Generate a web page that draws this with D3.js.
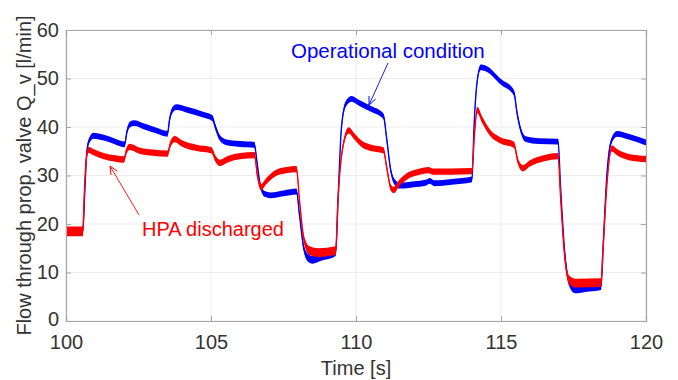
<!DOCTYPE html>
<html><head><meta charset="utf-8">
<script src="https://cdn.jsdelivr.net/npm/d3@7"></script>
<style>
html,body{margin:0;padding:0;background:#fff;}
text{font-family:"Liberation Sans",Arial,Helvetica,sans-serif;}
</style></head>
<body>
<svg id="chart" width="678" height="380"></svg>
<script>
// ---- data ----
const xTicks = [100, 105, 110, 115, 120];
const yTicks = [0, 10, 20, 30, 40, 50, 60];

const blueTime = [100,100.58,100.65,100.72,100.8,100.95,101.3,101.7,102.02,102.1,102.2,102.35,102.7,103.1,103.5,103.57,103.67,103.8,104.2,104.7,105.05,105.15,105.3,105.5,106.0,106.5,106.58,106.7,106.85,107.05,107.5,107.95,108.05,108.2,108.35,108.5,108.8,109.3,109.38,109.5,109.65,109.85,110.1,110.5,110.95,111.05,111.2,111.35,111.5,112.0,112.4,112.55,112.7,113.3,114.0,114.07,114.17,114.3,114.5,115.0,115.45,115.55,115.7,115.85,116.3,116.97,117.05,117.2,117.35,117.55,117.9,118.45,118.52,118.65,118.8,119.0,119.4,120];
const blueFlow = [18.5,18.5,27,35,37.2,38.2,37.8,37.0,36.4,39,40.5,40.8,40.1,39.3,38.6,41.5,43.5,44.1,43.5,42.6,41.8,40,37.8,36.9,36.5,36.3,33,28,26.2,25.9,26.3,26.7,22,15,13,12.6,13.2,14.2,25,40,44.8,45.8,45,43.8,42.2,38,31,28.5,27.9,28.2,28.5,28.9,28.4,28.7,29.2,40,49,52.3,52,49.3,47,43,39,37.5,37.1,37,28,14,8,6.5,6.8,7.2,15,30,37,38.6,38,36.8];
const blueAmp  = [0.9,0.9,0.6,0.6,0.6,0.6,0.6,0.6,0.6,0.6,0.6,0.6,0.6,0.6,0.6,0.6,0.6,0.6,0.6,0.6,0.6,0.6,0.6,0.6,0.6,0.6,0.6,0.6,0.6,0.6,0.6,0.6,0.6,0.7,0.8,0.8,0.8,0.8,0.6,0.6,0.6,0.6,0.6,0.6,0.6,0.6,0.6,0.6,0.6,0.6,0.6,0.6,0.6,0.6,0.6,0.6,0.6,0.6,0.6,0.6,0.6,0.6,0.6,0.6,0.6,0.6,0.6,0.7,0.8,0.8,0.8,0.8,0.6,0.6,0.6,0.6,0.6,0.6];

const redTime = [100,100.58,100.63,100.7,100.78,100.95,101.3,101.7,102.0,102.08,102.2,102.5,103.0,103.5,103.6,103.75,104.0,104.5,105.02,105.15,105.3,105.6,106.0,106.5,106.6,106.72,106.9,107.2,107.6,107.95,108.05,108.2,108.4,108.7,109.3,109.38,109.55,109.75,109.95,110.2,110.6,110.95,111.05,111.2,111.3,111.5,111.8,112.2,112.5,112.65,113.3,114.0,114.08,114.18,114.35,114.6,115.0,115.45,115.58,115.75,116.0,116.5,116.97,117.05,117.2,117.35,117.6,118.45,118.52,118.65,118.82,119.0,119.4,120];
const redFlow = [18.5,18.5,26,33.5,35.3,34.8,34,33.5,33.3,35,35.9,35.2,34.7,34.5,36.5,37.5,36.6,35.7,35.2,33.5,32.6,33.4,34.0,34.2,30,27.6,28.8,30.4,31.1,31.3,25,17,14.5,14.1,14.5,25,36,39.3,38,36.5,35.6,35.2,32,27.5,27,28.5,30,30.8,31.1,30.8,30.8,30.9,38,43.5,41.5,39,37.2,36.3,33,31.5,32.5,33.6,34,26,13,8.5,7.8,7.9,15,28,35.6,34.8,33.8,33.4];
const redAmp  = [1.0,1.0,0.65,0.65,0.65,0.65,0.65,0.65,0.65,0.65,0.65,0.65,0.65,0.65,0.65,0.65,0.65,0.65,0.65,0.65,0.65,0.65,0.65,0.65,0.65,0.65,0.65,0.65,0.65,0.65,0.65,0.8,0.9,0.9,0.9,0.65,0.65,0.65,0.65,0.65,0.65,0.65,0.65,0.65,0.65,0.65,0.65,0.65,0.65,0.65,0.65,0.65,0.65,0.65,0.65,0.65,0.65,0.65,0.65,0.65,0.65,0.65,0.65,0.65,0.8,0.9,0.9,0.9,0.65,0.65,0.65,0.65,0.65,0.65];

const xLabel = "Time [s]";
const yLabel = "Flow through prop. valve Q_v [l/min]";
const blueNote = "Operational condition";
const redNote = "HPA discharged";

// ---- layout ----
const W = 678, H = 380;
const m = {left: 66, right: 32, top: 30, bottom: 59};
const svg = d3.select("#chart");
const x = d3.scaleLinear().domain([100, 120]).range([m.left, W - m.right]);
const y = d3.scaleLinear().domain([0, 60]).range([H - m.bottom, m.top]);
const axisCol = "#a6a6a6", textCol = "#333333", gridCol = "#ececec";

// grid
const g = svg.append("g");
g.selectAll("line.gx").data(xTicks).join("line")
  .attr("x1", d => x(d)).attr("x2", d => x(d))
  .attr("y1", y(0)).attr("y2", y(60)).attr("stroke", gridCol).attr("stroke-width", 1);
g.selectAll("line.gy").data(yTicks).join("line")
  .attr("y1", d => y(d)).attr("y2", d => y(d))
  .attr("x1", x(100)).attr("x2", x(120)).attr("stroke", gridCol).attr("stroke-width", 1);

// data
svg.append("defs").append("clipPath").attr("id", "clip")
  .append("rect").attr("x", x(100)).attr("y", y(60))
  .attr("width", x(120) - x(100)).attr("height", y(0) - y(60));

function drawSeries(ts, vs, amps, col) {
  const pts = ts.map((t, i) => ({t, v: vs[i], a: amps[i]}));
  const area = d3.area().x(d => x(d.t)).y0(d => y(d.v - d.a)).y1(d => y(d.v + d.a))
    .curve(d3.curveMonotoneX);
  const line = d3.line().x(d => x(d.t)).y(d => y(d.v)).curve(d3.curveMonotoneX);
  const gg = svg.append("g").attr("clip-path", "url(#clip)");
  gg.append("path").datum(pts).attr("d", area).attr("fill", col);
  gg.append("path").datum(pts).attr("d", line).attr("fill", "none")
    .attr("stroke", col).attr("stroke-width", 1.4);
}
drawSeries(blueTime, blueFlow, blueAmp, "#0000ff");
drawSeries(redTime, redFlow, redAmp, "#ff0000");

// axes
const xAxisB = d3.axisBottom(x).tickValues(xTicks).tickSize(-5).tickPadding(13.5);
const xAxisT = d3.axisTop(x).tickValues(xTicks).tickSize(-5).tickFormat("");
const yAxisL = d3.axisLeft(y).tickValues(yTicks).tickSize(-5).tickPadding(7);
const yAxisR = d3.axisRight(y).tickValues(yTicks).tickSize(-5).tickFormat("");
function styleAxis(sel) {
  sel.select(".domain").attr("stroke", axisCol).attr("stroke-width", 1.2);
  sel.selectAll(".tick line").attr("stroke", axisCol);
  sel.selectAll(".tick text").attr("fill", textCol).attr("font-size", 20)
    .attr("font-family", '"Liberation Sans",Arial,sans-serif');
}
svg.append("g").attr("transform", `translate(0,${y(0)})`).call(xAxisB).call(styleAxis);
svg.append("g").attr("transform", `translate(0,${y(60)})`).call(xAxisT).call(styleAxis);
const yl = svg.append("g").attr("transform", `translate(${x(100)},0)`).call(yAxisL).call(styleAxis);
// keep the "0" label clear of the "100" label below it
yl.selectAll(".tick").filter(d => d === 0).select("text").attr("y", -2);
svg.append("g").attr("transform", `translate(${x(120)},0)`).call(yAxisR).call(styleAxis);

// axis labels
svg.append("text").attr("x", (x(100) + x(120)) / 2).attr("y", 375)
  .attr("text-anchor", "middle").attr("font-size", 20).attr("fill", textCol).text(xLabel);
svg.append("text").attr("transform", `translate(31,${(y(0) + y(60)) / 2}) rotate(-90)`)
  .attr("text-anchor", "middle").attr("font-size", 20).attr("fill", textCol).text(yLabel);

// annotations
function arrow(x1, y1, x2, y2, col) {
  svg.append("line").attr("x1", x1).attr("y1", y1).attr("x2", x2).attr("y2", y2)
    .attr("stroke", col).attr("stroke-width", 0.9);
  const ang = Math.atan2(y2 - y1, x2 - x1), L = 9, w = 0.42;
  const p1 = [x2 - L * Math.cos(ang - w), y2 - L * Math.sin(ang - w)];
  const p2 = [x2 - L * Math.cos(ang + w), y2 - L * Math.sin(ang + w)];
  svg.append("path").attr("d", `M${p1}L${x2},${y2}L${p2}`)
    .attr("fill", "none").attr("stroke", col).attr("stroke-width", 1);
}
svg.append("text").attr("x", 291).attr("y", 58).attr("font-size", 20.5)
  .attr("fill", "#0000ff").text(blueNote);
arrow(388, 63, 369, 105, "#0000ff");
svg.append("text").attr("x", 142).attr("y", 236).attr("font-size", 20)
  .attr("fill", "#ff0000").text(redNote);
arrow(139, 215, 110, 166, "#ff0000");
</script>
</body></html>
